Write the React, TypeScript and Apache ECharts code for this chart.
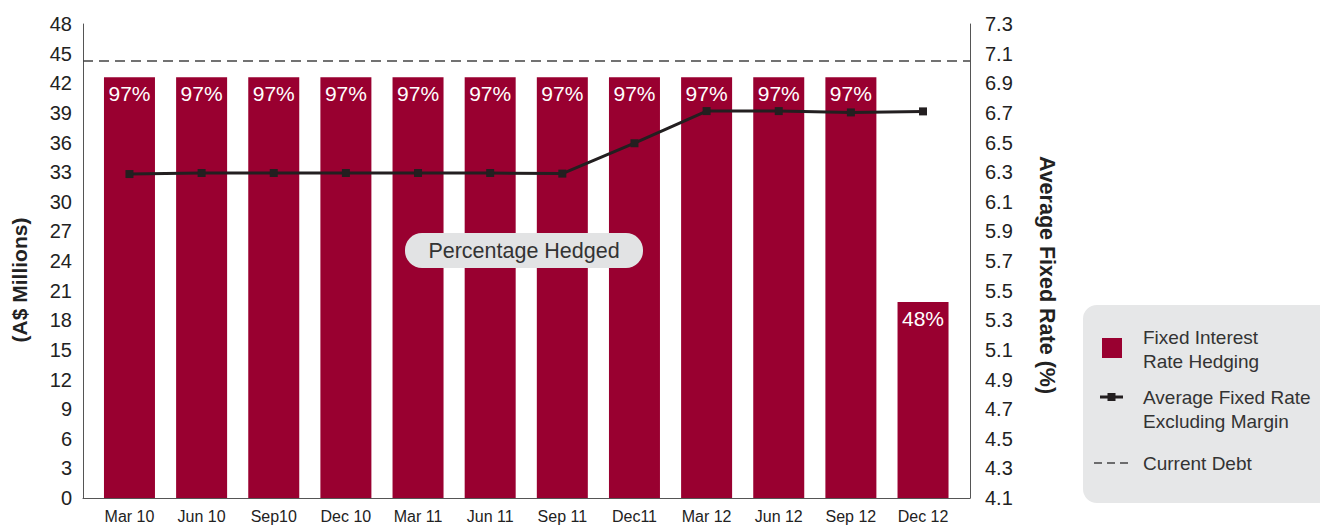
import React, { useEffect, useRef } from "react";
import * as echarts from "echarts";

const categories = ["Mar 10", "Jun 10", "Sep10", "Dec 10", "Mar 11", "Jun 11", "Sep 11", "Dec11", "Mar 12", "Jun 12", "Sep 12", "Dec 12"];
const hedgingValues = [42.6, 42.6, 42.6, 42.6, 42.6, 42.6, 42.6, 42.6, 42.6, 42.6, 42.6, 19.85];
const percentHedged = [97, 97, 97, 97, 97, 97, 97, 97, 97, 97, 97, 48];
const avgFixedRate = [6.287, 6.294, 6.294, 6.294, 6.294, 6.294, 6.29, 6.495, 6.712, 6.712, 6.703, 6.71];
const currentDebt = 44.25;

const leftMin = 0;
const leftMax = 48;
const leftStep = 3;
const rightMin = 4.1;
const rightMax = 7.3;

const seriesNames = ["Fixed Interest\nRate Hedging", "Average Fixed Rate\nExcluding Margin", "Current Debt"];
const calloutText = "Percentage Hedged";

const FONT = "'Liberation Sans', Arial, Helvetica, sans-serif";

// legend icon shapes (bounding box 34 x 36 kept via zero-length corner segments)
const ICON_BOX = "M0 0L0 0M34 36L34 36";
const ICON_SQUARE = "path://" + ICON_BOX + "M8 7H28V27H8Z";
const ICON_LINE = "path://" + ICON_BOX + "M6 4.5H29V7.5H6Z M13.5 2H21.5V10H13.5Z";
const ICON_DASH = "path://" + ICON_BOX + "M0 17.25H8V18.75H0Z M13 17.25H21V18.75H13Z M26 17.25H34V18.75H26Z";

export default function App() {
  const ref = useRef<HTMLDivElement>(null);

  useEffect(() => {
    if (!ref.current) return;
    const chart = echarts.init(ref.current, null, { renderer: "svg" });
    const axisColor = "#555";
    const option: any = {
      animation: false,
      textStyle: { fontFamily: FONT },
      grid: [
        { left: 83, top: 24, width: 887, height: 474 },
        { left: 93.4, top: 24, width: 865.7, height: 474 },
      ],
      xAxis: [
        {
          gridIndex: 0,
          type: "value",
          min: 0,
          max: 1,
          axisLine: { show: true, lineStyle: { color: axisColor, width: 1 } },
          axisTick: { show: false },
          axisLabel: { show: false },
          splitLine: { show: false },
        },
        {
          gridIndex: 1,
          type: "category",
          data: categories,
          axisLine: { show: false },
          axisTick: { show: false },
          axisLabel: { fontSize: 16, color: "#222", margin: 10, fontFamily: FONT, interval: 0 },
        },
      ],
      yAxis: [
        {
          gridIndex: 0,
          type: "value",
          position: "left",
          min: leftMin,
          max: leftMax,
          interval: leftStep,
          axisLine: { show: true, lineStyle: { color: axisColor, width: 1 } },
          axisTick: { show: false },
          splitLine: { show: false },
          axisLabel: { fontSize: 20, color: "#222", margin: 11, fontFamily: FONT },
          name: "(A$ Millions)",
          nameLocation: "middle",
          nameGap: 53,
          nameTextStyle: { fontSize: 21, fontWeight: "bold", color: "#222", fontFamily: FONT, padding: [0, 38, 0, 0] },
        },
        {
          gridIndex: 0,
          type: "value",
          position: "right",
          min: rightMin,
          max: rightMax,
          interval: 0.1,
          axisLine: { show: true, lineStyle: { color: axisColor, width: 1 } },
          axisTick: { show: false },
          splitLine: { show: false },
          axisLabel: {
            fontSize: 20,
            color: "#222",
            margin: 15,
            fontFamily: FONT,
            formatter: (v: number) => (Math.round(v * 10) % 2 === 1 ? v.toFixed(1) : ""),
          },
          name: "Average Fixed Rate (%)",
          nameLocation: "middle",
          nameGap: 66,
          nameRotate: -90,
          nameTextStyle: { fontSize: 21.5, fontWeight: "bold", color: "#222", fontFamily: FONT, padding: [0, 0, 0, 28] },
        },
        { gridIndex: 1, type: "value", min: leftMin, max: leftMax, interval: leftStep, show: false },
        { gridIndex: 1, type: "value", min: rightMin, max: rightMax, interval: 0.1, show: false },
      ],
      legend: {
        orient: "vertical",
        left: 1083,
        top: 305,
        backgroundColor: "#e6e7e8",
        borderRadius: 14,
        padding: [20, 40, 22, 11],
        itemWidth: 34,
        itemHeight: 36,
        itemGap: 12,
        selectedMode: false,
        textStyle: { fontSize: 19, color: "#333", lineHeight: 24, fontFamily: FONT, padding: [0, 0, 0, 10] },
        data: [
          { name: seriesNames[0], icon: ICON_SQUARE, itemStyle: { color: "#990030" } },
          { name: seriesNames[1], icon: ICON_LINE, itemStyle: { color: "#231f20" } },
          { name: seriesNames[2], icon: ICON_DASH, itemStyle: { color: "#444" } },
        ],
      },
      graphic: [
        {
          type: "group",
          left: 405,
          top: 233,
          z: 100,
          children: [
            { type: "rect", z: 100, shape: { x: 0, y: 0, width: 238, height: 35, r: 17 }, style: { fill: "#e2e3e4" } },
            {
              type: "text",
              z: 101,
              x: 119,
              y: 17.5,
              style: { text: calloutText, fontSize: 21.5, fill: "#333", fontFamily: FONT, align: "center", verticalAlign: "middle" },
            },
          ],
        },
      ],
      series: [
        {
          name: seriesNames[0],
          type: "bar",
          xAxisIndex: 1,
          yAxisIndex: 2,
          data: hedgingValues,
          barWidth: 51,
          itemStyle: { color: "#990030" },
          label: {
            show: true,
            position: "insideTop",
            distance: 6,
            color: "#fff",
            fontSize: 21,
            fontFamily: FONT,
            formatter: (p: any) => percentHedged[p.dataIndex] + "%",
          },
          z: 2,
        },
        {
          name: seriesNames[1],
          type: "line",
          xAxisIndex: 1,
          yAxisIndex: 3,
          data: avgFixedRate,
          symbol: "rect",
          symbolSize: 8,
          lineStyle: { color: "#231f20", width: 3 },
          itemStyle: { color: "#231f20" },
          z: 4,
        },
        {
          name: seriesNames[2],
          type: "line",
          xAxisIndex: 0,
          yAxisIndex: 0,
          data: [
            [0, currentDebt],
            [1, currentDebt],
          ],
          symbol: "none",
          lineStyle: { color: "#444", width: 1.5, type: [10, 6] },
          itemStyle: { color: "#444" },
          z: 3,
        },
      ],
    };
    chart.setOption(option);
    return () => chart.dispose();
  }, []);

  return <div ref={ref} style={{ position: "fixed", left: 0, top: 0, width: 1320, height: 525, background: "#fff" }} />;
}
